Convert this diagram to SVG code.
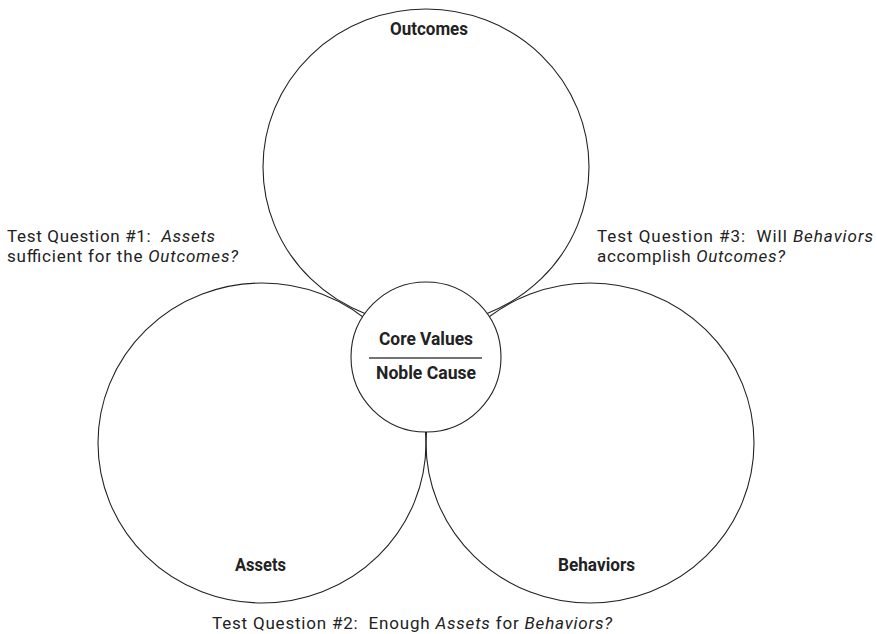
<svg xmlns="http://www.w3.org/2000/svg" width="877" height="634" viewBox="0 0 877 634">
<style>
.shape{fill:none;stroke:#222;stroke-width:1.1}
.hub{fill:#fff;stroke:#222;stroke-width:1.1}
.lbl{font-family:Roboto,"Liberation Sans",sans-serif;font-weight:700;font-size:18px;fill:#222;text-anchor:middle}
.q{font-family:Roboto,"Liberation Sans",sans-serif;font-size:17px;fill:#222}
.i{font-style:italic}
</style>
<rect width="877" height="634" fill="#fff"/>
<g id="connectors">
  <line x1="369" y1="358" x2="482" y2="358" stroke="#444" stroke-width="1.3"/>
</g>
<g id="outcomes">
  <ellipse class="shape" cx="426" cy="167" rx="163" ry="158"/>
  <text class="lbl" x="429" y="35" textLength="78" lengthAdjust="spacingAndGlyphs">Outcomes</text>
</g>
<g id="assets">
  <ellipse class="shape" cx="262" cy="443" rx="164" ry="160"/>
  <text class="lbl" x="260.5" y="571" textLength="51" lengthAdjust="spacingAndGlyphs">Assets</text>
</g>
<g id="behaviors">
  <ellipse class="shape" cx="590" cy="443" rx="164" ry="160"/>
  <text class="lbl" x="596.5" y="571" textLength="77" lengthAdjust="spacingAndGlyphs">Behaviors</text>
</g>
<g id="core">
  <circle class="hub" cx="426" cy="357" r="75"/>
  <text class="lbl" x="426" y="345" textLength="94" lengthAdjust="spacingAndGlyphs">Core Values</text>
  <line x1="369" y1="358" x2="482" y2="358" stroke="#444" stroke-width="1.3"/>
  <text class="lbl" x="426" y="379" textLength="100" lengthAdjust="spacingAndGlyphs">Noble Cause</text>
</g>
<g id="q1">
  <text class="q" x="7" y="242" xml:space="preserve" textLength="208">Test Question #1:  <tspan class="i">Assets</tspan></text>
  <text class="q" x="7" y="262" xml:space="preserve" textLength="231">sufficient for the <tspan class="i">Outcomes?</tspan></text>
</g>
<g id="q3">
  <text class="q" x="597" y="242" xml:space="preserve" textLength="276">Test Question #3:  Will <tspan class="i">Behaviors</tspan></text>
  <text class="q" x="597" y="262" xml:space="preserve" textLength="188">accomplish <tspan class="i">Outcomes?</tspan></text>
</g>
<g id="q2">
  <text class="q" x="212" y="629" xml:space="preserve" textLength="400">Test Question #2:  Enough <tspan class="i">Assets</tspan> for <tspan class="i">Behaviors?</tspan></text>
</g>
</svg>
